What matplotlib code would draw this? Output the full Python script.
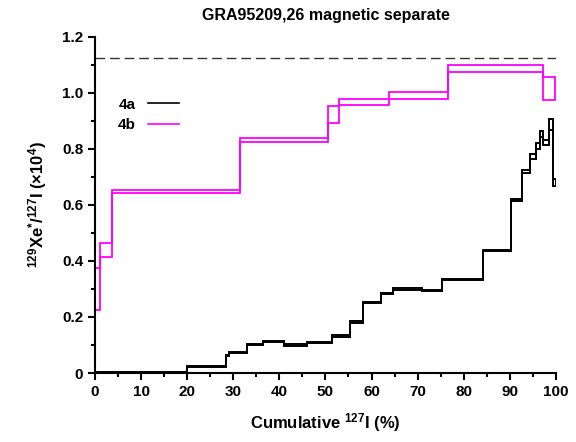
import numpy as np
import matplotlib
matplotlib.use("Agg")
import matplotlib.pyplot as plt
from matplotlib.ticker import MultipleLocator

# step edges (cumulative 127I %) and upper / lower bounds of 129Xe*/127I (x1e4)
edges_4a = [0, 20.0, 28.4, 29.1, 32.9, 36.4, 41.0, 45.9, 51.4, 55.3, 58.2, 62.1,
            64.6, 71.0, 75.4, 84.1, 90.2, 92.6, 94.5, 95.8, 96.5, 97.3, 98.6, 99.3, 100.0]
upper_4a = [0.003, 0.024, 0.064, 0.076, 0.104, 0.116, 0.102, 0.111, 0.134, 0.184,
            0.255, 0.285, 0.302, 0.297, 0.336, 0.438, 0.620, 0.724, 0.781, 0.820,
            0.862, 0.831, 0.907, 0.691]
lower_4a = [0.0, 0.020, 0.060, 0.072, 0.100, 0.112, 0.098, 0.107, 0.130, 0.180,
            0.251, 0.281, 0.298, 0.293, 0.332, 0.434, 0.613, 0.715, 0.765, 0.800,
            0.842, 0.815, 0.867, 0.667]

edges_4b = [0, 1.1, 3.7, 31.5, 50.5, 52.9, 63.7, 76.6, 97.3, 99.9]
upper_4b = [0.373, 0.463, 0.654, 0.840, 0.953, 0.979, 1.004, 1.100, 1.057]
lower_4b = [0.224, 0.415, 0.643, 0.824, 0.891, 0.955, 0.977, 1.073, 0.974]

reference_level = 1.125

plt.rcParams['font.family'] = ['Liberation Sans', 'DejaVu Sans']
plt.rcParams['font.weight'] = 'bold'
plt.rcParams['mathtext.fontset'] = 'custom'
plt.rcParams['mathtext.rm'] = 'Liberation Sans:bold'
plt.rcParams['mathtext.it'] = 'Liberation Sans:bold'
plt.rcParams['mathtext.bf'] = 'Liberation Sans:bold'

fig = plt.figure(figsize=(5.76, 4.42), dpi=100)
ax = fig.add_axes([0.165, 0.156, 0.800, 0.761])

ax.axhline(reference_level, color='#333333', lw=1.0, dashes=(7, 3.5))

ax.stairs(upper_4a, edges_4a, baseline=lower_4a, fill=False, color='black', lw=1.4)
ax.stairs(upper_4b, edges_4b, baseline=lower_4b, fill=False, color='#ff00ff', lw=1.3)

ax.plot([], [], color='black', lw=1.2, label='4a')
ax.plot([], [], color='#ff00ff', lw=1.2, label='4b')
ax.legend(loc='upper left', bbox_to_anchor=(0.02, 0.86), frameon=False,
          markerfirst=False, handlelength=2.0, fontsize=11, labelspacing=0.45)

ax.set_xlim(0, 100)
ax.set_ylim(0, 1.2)
ax.xaxis.set_major_locator(MultipleLocator(10))
ax.xaxis.set_minor_locator(MultipleLocator(5))
ax.yaxis.set_minor_locator(MultipleLocator(0.1))
ax.set_yticks([0, 0.2, 0.4, 0.6, 0.8, 1.0, 1.2])
ax.set_yticklabels(['0', '0.2', '0.4', '0.6', '0.8', '1.0', '1.2'])

for s in ['top', 'right']:
    ax.spines[s].set_visible(False)
for s in ['left', 'bottom']:
    ax.spines[s].set_linewidth(1.5)
ax.tick_params(which='major', direction='out', length=5, width=1.5, labelsize=11)
ax.tick_params(which='minor', direction='out', length=3, width=1.5)

ax.set_title('GRA95209,26 magnetic separate', fontsize=11.5, fontweight='bold', pad=12)
ax.set_xlabel(r'Cumulative $^{127}$I (%)', fontsize=12, fontweight='bold', labelpad=9)
ax.set_ylabel(r'$^{129}$Xe$^{*}$/$^{127}$I (×10$^{4}$)', fontsize=12, fontweight='bold', labelpad=9)

fig.savefig('out.png', dpi=100)
